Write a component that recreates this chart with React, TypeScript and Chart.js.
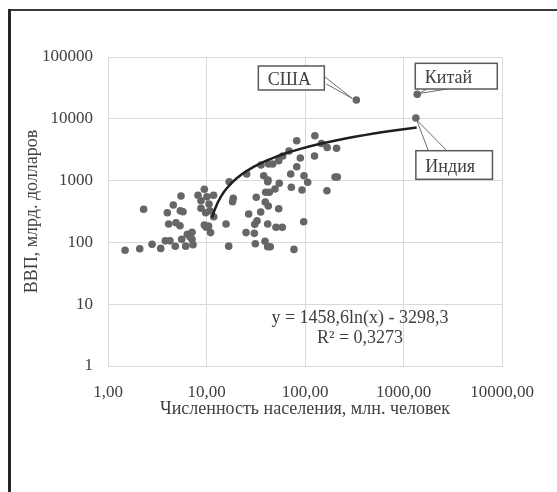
import { useEffect, useRef } from "react";
import { Chart, registerables } from "chart.js";

Chart.register(...registerables);

// Population, mln people (x) and GDP, bln dollars (y) for each country dot
const POPULATION = [
  1.49, 2.1, 2.8, 3.43, 3.82, 4.26, 4.82, 5.6, 6.15, 6.39, 7.13, 7.13, 7.29, 6.8,
  2.3, 4.0, 4.6, 5.51, 5.42, 5.77, 4.13, 4.9, 5.38, 9.5, 8.2, 10.1, 11.8, 8.79,
  10.6, 8.79, 9.81, 10.85, 11.84, 9.5, 10.5, 9.95, 11.0, 15.8, 16.8, 17.0, 25.6,
  38.1, 41.8, 54.8, 49.6, 39.9, 43.4, 71.6, 97.7, 106.5, 72.6, 93.2, 167, 202,
  213, 18.7, 18.4, 32.0, 39.5, 42.4, 54.1, 35.5, 26.8, 32.6, 30.9, 41.8, 50.8,
  58.8, 97.0, 25.2, 30.6, 31.3, 39.3, 41.8, 44.4, 77.3, 82.4, 126, 147, 168, 209,
  68.8, 59.4, 54.1, 47.0, 42.8, 35.8, 89.6, 125, 82.4, 42.1,
];
const GDP = [
  74.5, 79, 93, 80, 106, 106, 86.5, 112, 87, 135, 146, 112, 92, 124,
  343, 302, 403, 563, 326, 314, 199, 208, 186, 723, 578, 549, 578, 473,
  418, 356, 302, 326, 260, 191, 184, 176, 144, 199, 87, 960, 1279,
  1200, 960, 904, 731, 647, 647, 1279, 1200, 939, 779, 705, 686, 1144,
  1144, 517, 456, 537, 450, 388, 351, 310, 288, 224, 196, 199, 176,
  176, 216, 144, 140, 95, 104, 85, 85, 77, 4422, 5328, 3985, 3432, 3332,
  3013, 2500, 2099, 1856, 1856, 1788, 2321, 2500, 1679, 1023,
];

// Labelled countries
const LABEL_NAMES = ["США", "Китай", "Индия"];
const LABEL_POP = [332, 1380, 1335];
const LABEL_GDP = [20150, 24900, 10300];

// Axis ticks
const X_TICKS = [1, 10, 100, 1000, 10000];
const X_TICK_LABELS = ["1,00", "10,00", "100,00", "1000,00", "10000,00"];
const Y_TICKS = [1, 10, 100, 1000, 10000, 100000];
const Y_TICK_LABELS = ["1", "10", "100", "1000", "10000", "100000"];

const X_TITLE = "Численность населения, млн. человек";
const Y_TITLE = "ВВП, млрд. долларов";

// Logarithmic trendline as displayed on the chart
const TREND_A = 1458.6;
const TREND_B = -3298.3;
const TREND_X = [
  11.4, 12, 13, 14, 15, 16, 18, 20, 23, 26, 30, 35, 40, 47, 55, 65, 75, 90, 110,
  130, 160, 200, 250, 320, 400, 500, 650, 800, 1000, 1200, 1360,
];
const EQUATION_TEXT = "y = 1458,6ln(x) - 3298,3";
const R2_TEXT = "R² = 0,3273";

const FONT = '"Liberation Serif", "Times New Roman", serif';
const TEXT_COLOR = "#404040";

// callout geometry relative to the anchor point (pixels)
const CALLOUTS = [
  { box: [-98, -34, 66, 24], base: [[-32, -23.5], [-30, -16]], tip: [-4, -1.5] },
  { box: [-2, -31, 82, 25.7], base: [[9.5, -5.3], [30, -5.3]], tip: [1.8, -0.8] },
  { box: [0, 32.7, 76.6, 28.6], base: [[12.5, 32.7], [31, 32.7]], tip: [0.8, 2] },
];

const overlayPlugin = {
  id: "overlay",
  beforeDraw(chart: any) {
    const ctx = chart.ctx;
    ctx.save();
    ctx.fillStyle = "#ffffff";
    ctx.fillRect(0, 0, chart.width, chart.height);
    ctx.restore();
  },
  afterDraw(chart: any) {
    const ctx = chart.ctx;
    const xs = chart.scales.x;
    const ys = chart.scales.y;
    ctx.save();
    // trendline equation
    ctx.font = `18px ${FONT}`;
    ctx.fillStyle = TEXT_COLOR;
    ctx.textAlign = "center";
    ctx.textBaseline = "middle";
    ctx.fillText(EQUATION_TEXT, 360, 318);
    ctx.fillText(R2_TEXT, 360, 338);

    // callouts
    LABEL_NAMES.forEach((name, i) => {
      const ax = xs.getPixelForValue(LABEL_POP[i]);
      const ay = ys.getPixelForValue(LABEL_GDP[i]);
      const c = CALLOUTS[i];
      ctx.strokeStyle = "#6e6e6e";
      ctx.lineWidth = 1;
      ctx.beginPath();
      ctx.moveTo(ax + c.base[0][0], ay + c.base[0][1]);
      ctx.lineTo(ax + c.tip[0], ay + c.tip[1]);
      ctx.lineTo(ax + c.base[1][0], ay + c.base[1][1]);
      ctx.stroke();
      const bx = ax + c.box[0];
      const by = ay + c.box[1];
      ctx.fillStyle = "#ffffff";
      ctx.fillRect(bx, by, c.box[2], c.box[3]);
      ctx.strokeStyle = "#595959";
      ctx.lineWidth = 1.5;
      ctx.strokeRect(bx, by, c.box[2], c.box[3]);
      ctx.fillStyle = TEXT_COLOR;
      ctx.textAlign = "left";
      ctx.textBaseline = "middle";
      ctx.font = `18px ${FONT}`;
      ctx.fillText(name, bx + 9.5, by + c.box[3] / 2 + 2);
    });

    // outer frame (top and left edges)
    ctx.fillStyle = "#3a3a3a";
    ctx.fillRect(8, 9, chart.width - 8, 2);
    ctx.fillStyle = "#262626";
    ctx.fillRect(8, 9, 3, chart.height - 9);
    ctx.restore();
  },
};

export default function App() {
  const ref = useRef<HTMLCanvasElement | null>(null);
  useEffect(() => {
    if (!ref.current) return;
    const points = POPULATION.map((x, i) => ({ x, y: GDP[i] }));
    const labelled = LABEL_POP.map((x, i) => ({ x, y: LABEL_GDP[i] }));
    const trend = TREND_X.map((x) => ({ x, y: TREND_A * Math.log(x) + TREND_B }));
    const chart = new Chart(ref.current, {
      type: "scatter",
      data: {
        datasets: [
          {
            type: "line",
            data: trend,
            borderColor: "#1f1f1f",
            borderWidth: 2.5,
            pointRadius: 0,
            fill: false,
            tension: 0,
            order: 0,
          } as any,
          {
            data: points,
            backgroundColor: "#666666",
            borderWidth: 0,
            pointRadius: 3.8,
            order: 1,
          },
          {
            data: labelled,
            backgroundColor: "#666666",
            borderWidth: 0,
            pointRadius: 3.8,
            order: 1,
          },
        ],
      },
      options: {
        responsive: false,
        animation: false,
        devicePixelRatio: 1,
        layout: { padding: { top: 57, right: 55, left: 0, bottom: 0 } },
        plugins: { legend: { display: false }, tooltip: { enabled: false } },
        scales: {
          x: {
            type: "logarithmic",
            min: 1,
            max: 10000,
            afterBuildTicks: (scale: any) => {
              scale.ticks = X_TICKS.map((v) => ({ value: v }));
            },
            afterFit: (scale: any) => {
              scale.height = 126;
            },
            ticks: {
              autoSkip: false,
              maxRotation: 0,
              padding: 16,
              color: TEXT_COLOR,
              font: { family: FONT, size: 17 },
              callback: (v: any) => {
                const i = X_TICKS.indexOf(Number(v));
                return i >= 0 ? X_TICK_LABELS[i] : null;
              },
            },
            grid: { color: "#d9d9d9", drawTicks: false, lineWidth: 1 },
            border: { color: "#d9d9d9" },
            title: {
              display: true,
              text: X_TITLE,
              color: TEXT_COLOR,
              font: { family: FONT, size: 18 },
              padding: { top: 72, bottom: 72 },
            },
          },
          y: {
            type: "logarithmic",
            min: 1,
            max: 100000,
            afterBuildTicks: (scale: any) => {
              scale.ticks = Y_TICKS.map((v) => ({ value: v }));
            },
            afterFit: (scale: any) => {
              scale.width = 108;
            },
            ticks: {
              autoSkip: false,
              padding: 15,
              color: TEXT_COLOR,
              font: { family: FONT, size: 17 },
              callback: (v: any) => {
                const i = Y_TICKS.indexOf(Number(v));
                return i >= 0 ? Y_TICK_LABELS[i] : null;
              },
            },
            grid: { color: "#d9d9d9", drawTicks: false, lineWidth: 1 },
            border: { color: "#d9d9d9" },
            title: {
              display: true,
              text: Y_TITLE,
              color: TEXT_COLOR,
              font: { family: FONT, size: 18 },
              padding: { top: 21, bottom: 21 },
            },
          },
        },
      },
      plugins: [overlayPlugin],
    });
    return () => chart.destroy();
  }, []);
  return (
    <div style={{ position: "absolute", left: 0, top: 0, width: 557, height: 492 }}>
      <canvas ref={ref} width={557} height={492} style={{ display: "block" }} />
    </div>
  );
}
